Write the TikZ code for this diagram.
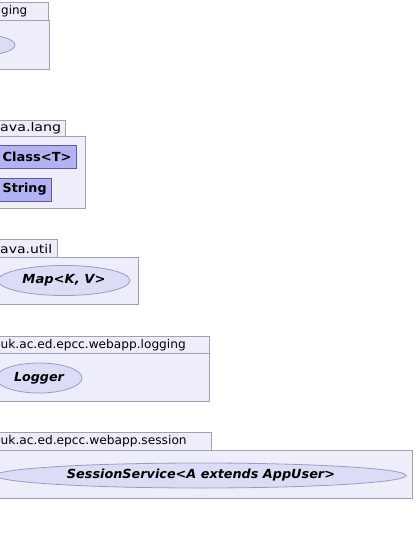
\documentclass[tikz,border=0pt]{standalone}
\usepackage{fontspec}
\usepackage{graphicx}
\setmainfont{DejaVu Sans}
\usetikzlibrary{shapes.geometric, positioning}
\definecolor{PkgFill}{HTML}{EEEEFA}
\definecolor{PkgLine}{HTML}{A0A0B0}
\definecolor{UseFill}{HTML}{DCDCF7}
\definecolor{UseLine}{HTML}{9A9AC4}
\definecolor{ClsFill}{HTML}{B3B3F4}
\definecolor{ClsLine}{HTML}{5A5AA8}
% stretch a text to a given width, keeping its height
\newcommand{\fitto}[2]{\resizebox{#1}{\height}{#2}}

\begin{document}
\begin{tikzpicture}[
    x=1pt, y=-1pt,
    pkg/.style={
        draw=PkgLine,
        fill=PkgFill,
        line width=0.8pt
    },
    pkgname/.style={
        font=\fontsize{12}{14}\selectfont,
        anchor=base west,
        inner sep=0pt
    },
    iface/.style={
        ellipse,
        draw=UseLine,
        fill=UseFill,
        line width=0.8pt,
        inner sep=0pt,
        font=\fontsize{12.5}{15}\selectfont\bfseries\itshape
    },
    cls/.style={
        rectangle,
        draw=ClsLine,
        fill=ClsFill,
        line width=0.8pt,
        anchor=east,
        minimum height=23pt,
        inner xsep=5pt,
        font=\fontsize{12.5}{15}\selectfont\bfseries
    }
]
\useasboundingbox (0,0) rectangle (415,545);
\clip (0,0) rectangle (415,545);

% Package: logging (cut off)
\draw[pkg] (-40,2) rectangle (48,20);
\draw[pkg] (-40,20) rectangle (49,69);
\node[pkgname] (logtab) at (1,15) {\fitto{26pt}{ging}};
\node[iface, minimum width=80pt, minimum height=22pt] (loguse) at (-25,45) {};

% Package: java.lang
\draw[pkg] (-40,120) rectangle (65,136);
\draw[pkg] (-40,136) rectangle (85,208);
\node[pkgname] (langtab) at (0,131.5) {\fitto{61pt}{ava.lang}};
\node[cls] (classT) at (77,156.5) {\fitto{69pt}{Class<T>}};
\node[cls] (string) at (52,189.5) {\fitto{44pt}{String}};

% Package: java.util
\draw[pkg] (-40,239) rectangle (57,257);
\draw[pkg] (-40,257) rectangle (138,304);
\node[pkgname] (utiltab) at (0,253.5) {\fitto{52pt}{ava.util}};
\node[iface, minimum width=132pt, minimum height=30pt] (map) at (64,280.5) {\fitto{83pt}{Map<K, V>}};

% Package: webapp.logging
\draw[pkg] (-40,336) rectangle (209,353);
\draw[pkg] (-40,353) rectangle (209,401);
\node[pkgname] (weblogtab) at (0.5,348) {\fitto{185pt}{uk.ac.ed.epcc.webapp.logging}};
\node[iface, minimum width=86pt, minimum height=30pt] (logger) at (39,378) {\fitto{50pt}{Logger}};

% Package: webapp.session
\draw[pkg] (-40,432) rectangle (211,450);
\draw[pkg] (-40,450) rectangle (412,498);
\node[pkgname] (sesstab) at (0.5,444.5) {\fitto{186pt}{uk.ac.ed.epcc.webapp.session}};
\node[iface, minimum width=410pt, minimum height=25pt] (session) at (201,475.5) {\fitto{268pt}{SessionService<A extends AppUser>}};

\end{tikzpicture}
\end{document}
